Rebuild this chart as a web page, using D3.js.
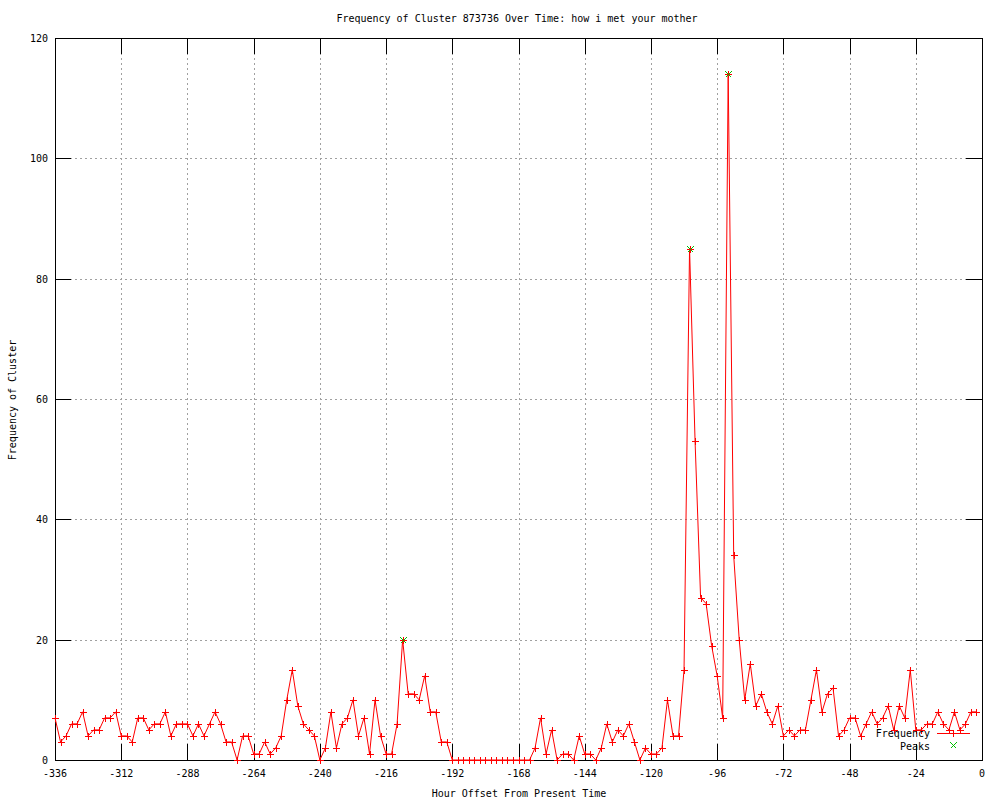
<!DOCTYPE html>
<html>
<head>
<meta charset="utf-8">
<script src="https://cdn.jsdelivr.net/npm/d3@7"></script>
<style>
  body { margin: 0; background: #fff; }
  svg text { font-family: "DejaVu Sans Mono", "Liberation Mono", monospace; font-size: 10px; fill: #000; }
</style>
</head>
<body>
<svg id="chart" width="1000" height="800"></svg>
<script>
// ---- data ----
const title = "Frequency of Cluster 873736 Over Time: how i met your mother";
const xLabel = "Hour Offset From Present Time";
const yLabel = "Frequency of Cluster";
const startHour = -336;
const stepHours = 2;
const frequency = [
  7,3,4,6,6,8,4,5,5,7,7,8,
  4,4,3,7,7,5,6,6,8,4,6,6,
  6,4,6,4,6,8,6,3,3,0,4,4,
  1,1,3,1,2,4,10,15,9,6,5,4,
  0,2,8,2,6,7,10,4,7,1,10,4,
  1,1,6,20,11,11,10,14,8,8,3,3,
  0,0,0,0,0,0,0,0,0,0,0,0,
  0,0,0,2,7,1,5,0,1,1,0,4,
  1,1,0,2,6,3,5,4,6,3,0,2,
  1,1,2,10,4,4,15,85,53,27,26,19,
  14,7,114,34,20,10,16,9,11,8,6,9,
  4,5,4,5,5,10,15,8,11,12,4,5,
  7,7,4,6,8,6,7,9,5,9,7,15,
  5,5,6,6,8,6,5,8,5,6,8,8
];
const peakHours = [-210, -106, -92];
const peakValues = [20, 85, 114];
const xTicks = [-336,-312,-288,-264,-240,-216,-192,-168,-144,-120,-96,-72,-48,-24,0];
const yTicks = [0,20,40,60,80,100,120];
const legendLabels = ["Frequency", "Peaks"];

// ---- drawing ----
const svg = d3.select("#chart");
const L = 55, R = 982, T = 38, B = 760;
const x = d3.scaleLinear().domain([-336, 0]).range([L, R]);
const y = d3.scaleLinear().domain([0, 120]).range([B, T]);
const data = frequency.map((v, i) => ({h: startHour + i * stepHours, v}));
const peaks = peakHours.map((h, i) => ({h, v: peakValues[i]}));

svg.append("rect").attr("width", 1000).attr("height", 800).attr("fill", "#fff");

// grid
const grid = svg.append("g").attr("stroke", "#a0a0a0").attr("stroke-dasharray", "2,3").attr("shape-rendering", "crispEdges");
grid.selectAll(".gx").data(xTicks.slice(1, -1)).enter().append("line")
  .attr("x1", d => Math.round(x(d)) + 0.5).attr("x2", d => Math.round(x(d)) + 0.5)
  .attr("y1", T).attr("y2", B);
grid.selectAll(".gy").data(yTicks.slice(1, -1)).enter().append("line")
  .attr("y1", d => Math.round(y(d)) + 0.5).attr("y2", d => Math.round(y(d)) + 0.5)
  .attr("x1", L).attr("x2", R);

// legend background (covers grid)
svg.append("rect").attr("x", 872).attr("y", 727).attr("width", 104).attr("height", 26).attr("fill", "#fff");

// ticks (mirrored, inward)
const tk = svg.append("g").attr("stroke", "#000").attr("shape-rendering", "crispEdges");
const TL = 16;
xTicks.forEach(t => {
  const px = Math.round(x(t)) + 0.5;
  tk.append("line").attr("x1", px).attr("x2", px).attr("y1", B).attr("y2", B - TL);
  tk.append("line").attr("x1", px).attr("x2", px).attr("y1", T).attr("y2", T + TL);
});
yTicks.forEach(t => {
  const py = Math.round(y(t)) + 0.5;
  tk.append("line").attr("y1", py).attr("y2", py).attr("x1", L).attr("x2", L + TL);
  tk.append("line").attr("y1", py).attr("y2", py).attr("x1", R).attr("x2", R - TL);
});

// tick labels
svg.append("g").selectAll("text").data(xTicks).enter().append("text")
  .attr("x", d => x(d)).attr("y", 777).attr("text-anchor", "middle").text(d => String(d));
svg.append("g").selectAll("text").data(yTicks).enter().append("text")
  .attr("x", 48).attr("y", d => y(d) + 4).attr("text-anchor", "end").text(d => String(d));

// frame
svg.append("rect").attr("x", L + 0.5).attr("y", T + 0.5).attr("width", R - L).attr("height", B - T)
  .attr("fill", "none").attr("stroke", "#000").attr("shape-rendering", "crispEdges");

// data line
const line = d3.line().x(d => x(d.h)).y(d => y(d.v));
svg.append("path").datum(data).attr("d", line).attr("fill", "none").attr("stroke", "#ff0000").attr("stroke-width", 1);

// markers
const plus = (g, cx, cy, s, color) => {
  g.append("path").attr("d", `M${cx - s},${cy}H${cx + s}M${cx},${cy - s}V${cy + s}`)
    .attr("stroke", color).attr("stroke-width", 1).attr("fill", "none").attr("shape-rendering", "crispEdges");
};
const cross = (g, cx, cy, s, color) => {
  g.append("path").attr("d", `M${cx - s},${cy - s}L${cx + s},${cy + s}M${cx - s},${cy + s}L${cx + s},${cy - s}`)
    .attr("stroke", color).attr("stroke-width", 1.1).attr("fill", "none").attr("shape-rendering", "crispEdges");
};
const mk = svg.append("g");
data.forEach(d => plus(mk, Math.round(x(d.h)) + 0.5, Math.round(y(d.v)) + 0.5, 3.5, "#ff0000"));
const pk = svg.append("g");
peaks.forEach(d => cross(pk, Math.round(x(d.h)) + 0.5, Math.round(y(d.v)) + 0.5, 3, "#00c000"));

// legend
const lg = svg.append("g");
lg.append("text").attr("x", 930).attr("y", 737).attr("text-anchor", "end").text(legendLabels[0]);
lg.append("rect").attr("x", 937).attr("y", 733).attr("width", 33).attr("height", 1).attr("fill", "#ff0000");
plus(lg, 953.5, 733.5, 3.5, "#ff0000");
lg.append("text").attr("x", 930).attr("y", 750).attr("text-anchor", "end").text(legendLabels[1]);
cross(lg, 953.5, 745.5, 3, "#00c000");

// titles
svg.append("text").attr("x", 517).attr("y", 22).attr("text-anchor", "middle").text(title);
svg.append("text").attr("x", 519).attr("y", 797).attr("text-anchor", "middle").text(xLabel);
svg.append("text").attr("transform", "translate(16,400) rotate(-90)").attr("text-anchor", "middle").text(yLabel);
</script>
</body>
</html>
